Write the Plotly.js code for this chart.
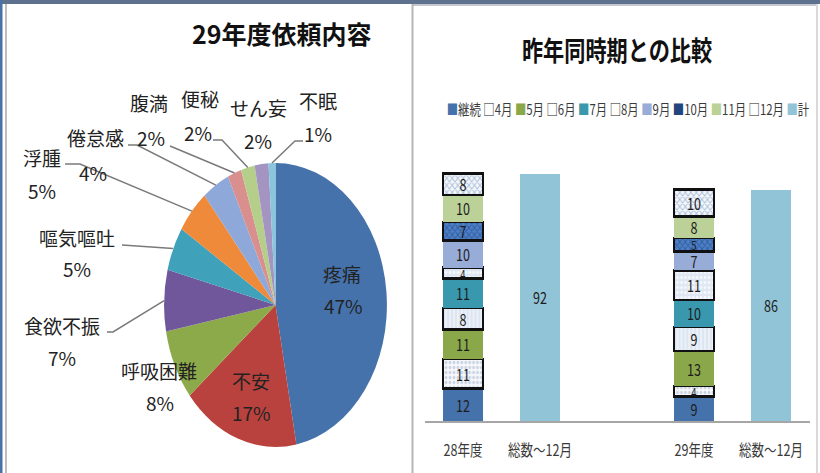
<!DOCTYPE html>
<html><head><meta charset="utf-8">
<script src="https://cdn.plot.ly/plotly-3.0.1.min.js"></script>
<style>
html,body{margin:0;padding:0;overflow:hidden;background:#fff;width:820px;height:473px;}
#sq{position:absolute;left:0;top:0;width:1045px;height:473px;transform:scaleX(0.784689);transform-origin:0 0;}
#ov{position:absolute;left:0;top:0;width:820px;height:473px;pointer-events:none;}
</style></head><body>
<div id="sq"></div><div id="ov"></div>
<script>
// ---------------- DATA ----------------
const pieTitle = '29年度依頼内容';
const pieLabels = ['疼痛','不安','呼吸困難','食欲不振','嘔気嘔吐','浮腫','倦怠感','腹満','便秘','せん妄','不眠'];
const pieValues = [47,17,8,7,5,5,4,2,2,2,1];

const barTitle = '昨年同時期との比較';
const xLabels = ['28年度','総数～12月','','29年度','総数～12月'];
const seriesNames = ['継続','4月','5月','6月','7月','8月','9月','10月','11月','12月'];
const values28 = [12,11,11,8,11,4,10,7,10,8];
const values29 = [9,4,13,9,10,11,7,5,8,10];
const totalName = '計';
const totals = [92,86];

// ---------------- STYLES ----------------
const FONT = 'Noto Sans CJK JP, Noto Sans, sans-serif';
const pieColors = ['#4672AC','#B9423F','#8DAA4B','#70579B','#3FA1BA','#EE8A3A','#8FA8DA','#D88F8D','#B5CF8A','#A494C2','#88C6DD'];
const seriesStyles = [
  {color:'#4672AC'},
  {color:'#F5F7FB', fg:'#C9D3E2', shape:'.', icon:'#222', glyph:'□'},
  {color:'#8AA84A'},
  {color:'#DCE5F1', fg:'#F4F7FB', shape:'|', icon:'#222', glyph:'□'},
  {color:'#3A98AE'},
  {color:'#DEE7F2', fg:'#F6F8FC', shape:'.', icon:'#222', glyph:'□'},
  {color:'#98ACD8'},
  {color:'#4E7FC6', fg:'#2F5B9C', shape:'x', icon:'#23457E', glyph:'■'},
  {color:'#BBD198'},
  {color:'#F3F6FA', fg:'#A9BCD8', shape:'x', icon:'#222', glyph:'□'}
];
const totalColor = '#92C4D8';

// scale (reference is horizontally compressed)
const SX = 820/1045;
// pie geometry in reference pixels
const PCX = 275.5, PCY = 305, PRY = 142, PRX = PRY*SX;

// ---------------- SQUEEZED PLOT (pie + bars) ----------------
const stackX = xLabels.map((l,i)=>l.endsWith('年度')?i:-1).filter(i=>i>=0);
const totalX = xLabels.map((l,i)=>l.startsWith('総数')?i:-1).filter(i=>i>=0);

const traces = [];
traces.push({
  type:'pie', labels:pieLabels, values:pieValues, sort:false, direction:'clockwise', rotation:0,
  marker:{colors:pieColors, line:{width:0}}, textinfo:'none', showlegend:false, hoverinfo:'skip',
  domain:{x:[PCX/820 - PRY/1045, PCX/820 + PRY/1045], y:[1-(PCY+PRY)/473, 1-(PCY-PRY)/473]}
});
seriesNames.forEach((n,i)=>{
  const st = seriesStyles[i];
  const vals = [values28[i], values29[i]];
  const m = {color:st.color, line:{color:st.shape?'#111':'rgba(0,0,0,0)', width:st.shape?2.6:0}};
  if(st.shape) m.pattern = {shape:st.shape, fgcolor:st.fg, bgcolor:st.color, size:5, solidity:0.35};
  traces.push({type:'bar', name:n, x:stackX, y:vals, text:vals.map(String), width:0.52,
    marker:m, textposition:'inside', insidetextanchor:'middle', textangle:0, constraintext:'none',
    textfont:{family:FONT, size:vals.map(v=>v<=5?12:16), color:'#1c1c1c'}, showlegend:false, hoverinfo:'skip'});
});
traces.push({type:'bar', name:totalName, x:totalX, y:totals, text:totals.map(String), width:0.52,
  marker:{color:totalColor}, textposition:'inside', insidetextanchor:'middle', textangle:0, constraintext:'none',
  textfont:{family:FONT, size:16, color:'#1c1c1c'}, showlegend:false, hoverinfo:'skip'});

const legendText = seriesNames.map((n,i)=>{
  const st = seriesStyles[i];
  return `<span style="color:${st.icon||st.color}">${st.glyph||'■'}</span>${n}`;
}).concat([`<span style="color:${totalColor}">■</span>${totalName}`]).join(' ');

const layout1 = {
  width:1045, height:473, margin:{l:0,r:0,t:0,b:0},
  paper_bgcolor:'#ffffff', plot_bgcolor:'rgba(0,0,0,0)',
  font:{family:FONT}, barmode:'stack', showlegend:false,
  xaxis:{domain:[424.5/820, 809.5/820], range:[-0.5,4.5], tickmode:'array',
    tickvals:xLabels.map((_,i)=>i), ticktext:xLabels, showline:true, linecolor:'#A6A6A6', linewidth:2,
    ticks:'', showgrid:false, zeroline:false, tickfont:{family:FONT, size:16, color:'#3a3a3a'},
    ticklabelstandoff:14, fixedrange:true},
  yaxis:{domain:[1-421/473, 1-150/473], range:[0,(421-150)/2.69], visible:false, fixedrange:true},
  annotations:[
    {xref:'paper', yref:'paper', x:617/820, y:1-50/473, text:barTitle, showarrow:false,
     font:{family:FONT, size:27, weight:700, color:'#111'}, xanchor:'center', yanchor:'middle'},
    {xref:'paper', yref:'paper', x:628/820, y:1-108/473, text:legendText, showarrow:false,
     font:{family:FONT, size:14.5, color:'#3a3a3a'}, xanchor:'center', yanchor:'middle'}
  ]
};
Plotly.newPlot('sq', traces, layout1, {staticPlot:true, displayModeBar:false});

// ---------------- OVERLAY (left title, pie labels, frame) ----------------
// label placement (reference px): name x,y, percent x,y
const labelPos = [[342,273,343,305],[251,380,251,412],[159,370,160,402],[62,325,62,357],[77,237,77,268],
  [42,157,42,190],[95,137,93,172],[149,102,151,137],[200,98,198,132],[258,107,258,140],[318,100,318,133]];
// leader line start points near the labels
const leaderStart = {3:[[107,332],[113,332]],4:[[122,245]],5:[[65,164],[80,164]],6:[[128,145],[137,145]],
  7:[[170,146]],8:[[213,140],[222,140]],10:[[303,141],[295,141]]};

const total = pieValues.reduce((a,b)=>a+b,0);
let cum = 0;
const ann2 = [{x:282, y:33, text:pieTitle, showarrow:false, font:{family:FONT, size:25, weight:700, color:'#111'}}];
const shapes2 = [];
pieLabels.forEach((lab,i)=>{
  const mid = (cum + pieValues[i]/2)/total; cum += pieValues[i];
  const th = mid*2*Math.PI;
  const tip = [PCX + PRX*Math.sin(th), PCY - PRY*Math.cos(th)];
  const p = labelPos[i];
  const pct = Math.round(pieValues[i]/total*100)+'%';
  ann2.push({x:p[0], y:p[1], text:lab, showarrow:false, font:{family:FONT, size:19, color:'#222'}});
  ann2.push({x:p[2], y:p[3], text:pct, showarrow:false, font:{family:FONT, size:19, color:'#222'}});
  if(leaderStart[i]){
    const pts = leaderStart[i].concat([tip]);
    shapes2.push({type:'path', xref:'x', yref:'y', path:'M '+pts.map(q=>q[0]+','+q[1]).join(' L '),
      line:{color:'#7a7a7a', width:1.5}});
  }
});
// frame decoration
const frame = [
  {x0:0,x1:820,y0:0,y1:4,c:'#5E7290'},
  {x0:413,x1:817,y0:4,y1:6,c:'#C4C8CE'},
  {x0:0,x1:2.5,y0:0,y1:473,c:'#4A70A8'},
  {x0:5,x1:7,y0:4,y1:473,c:'#BDBDBD'},
  {x0:411.5,x1:413.5,y0:4,y1:473,c:'#B5B5B5'},
  {x0:816,x1:818,y0:4,y1:473,c:'#DADADA'}
];
frame.forEach(f=>shapes2.push({type:'rect', xref:'x', yref:'y', x0:f.x0, x1:f.x1, y0:f.y0, y1:f.y1,
  fillcolor:f.c, line:{width:0}, layer:'above'}));

Plotly.newPlot('ov', [], {
  width:820, height:473, margin:{l:0,r:0,t:0,b:0},
  paper_bgcolor:'rgba(0,0,0,0)', plot_bgcolor:'rgba(0,0,0,0)',
  xaxis:{range:[0,820], visible:false, domain:[0,1], fixedrange:true},
  yaxis:{range:[473,0], visible:false, domain:[0,1], fixedrange:true},
  annotations:ann2, shapes:shapes2, showlegend:false
}, {staticPlot:true, displayModeBar:false});
</script>
</body></html>
